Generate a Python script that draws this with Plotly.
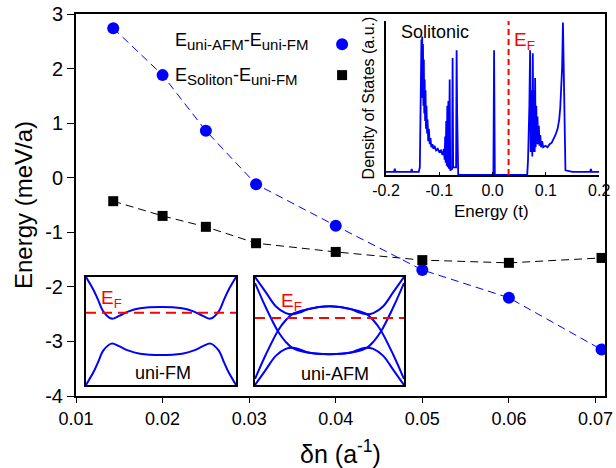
import plotly.graph_objects as go

# ---------------- main data ----------------
dn = [0.0143, 0.0200, 0.0250, 0.0308, 0.0400, 0.0500, 0.0600, 0.0707]
e_afm_fm = [2.74, 1.88, 0.86, -0.12, -0.88, -1.69, -2.20, -3.15]
e_sol_fm = [-0.43, -0.70, -0.90, -1.20, -1.36, -1.51, -1.56, -1.47]
y_ticks = [-4, -3, -2, -1, 0, 1, 2, 3]
y_tick_text = ["-4", "-3", "-2", "-1", "0", "1", "2", "3"]
x_ticks = [0.01, 0.02, 0.03, 0.04, 0.05, 0.06, 0.07]
x_tick_text = ["0.01", "0.02", "0.03", "0.04", "0.05", "0.06", "0.07"]

# ---------------- DOS inset ----------------
dos_e = [-0.2000, -0.1850, -0.1835, -0.1820, -0.1530, -0.1518, -0.1505, -0.1385,
         -0.1365, -0.1345, -0.1335, -0.1328, -0.1321, -0.1314, -0.1306, -0.1298,
         -0.1290, -0.1282, -0.1274, -0.1266, -0.1258, -0.1250, -0.1240, -0.1230,
         -0.1220, -0.1208, -0.1195, -0.1180, -0.1165, -0.1150, -0.1130, -0.1110,
         -0.1090, -0.1060, -0.1030, -0.1000, -0.0970, -0.0940, -0.0915, -0.0900,
         -0.0890, -0.0880, -0.0870, -0.0860, -0.0850, -0.0840, -0.0830, -0.0820,
         -0.0805, -0.0795, -0.0760, -0.0750, -0.0740, -0.0685, -0.0675, -0.0665,
         -0.0645, -0.0020, 0.0015, 0.0028, 0.0042, 0.0650, 0.0665, 0.0690,
         0.0704, 0.0715, 0.0730, 0.0745, 0.0755, 0.0765, 0.0780, 0.0790,
         0.0798, 0.0808, 0.0820, 0.0830, 0.0842, 0.0855, 0.0868, 0.0880,
         0.0895, 0.0910, 0.0930, 0.0950, 0.0990, 0.1030, 0.1070, 0.1110,
         0.1140, 0.1180, 0.1220, 0.1250, 0.1270, 0.1290, 0.1305, 0.1320,
         0.1335, 0.1350, 0.1367, 0.1500, 0.1830, 0.1844, 0.1858, 0.2000]
dos_v = [0.02, 0.02, 0.04, 0.02, 0.02, 0.04, 0.02, 0.02,
         0.05, 0.75, 0.88, 0.55, 0.90, 0.50, 0.85, 0.45,
         0.75, 0.40, 0.62, 0.35, 0.55, 0.30, 0.45, 0.27,
         0.36, 0.22, 0.30, 0.20, 0.24, 0.18, 0.20, 0.17,
         0.19, 0.16, 0.17, 0.15, 0.16, 0.13, 0.17, 0.10,
         0.25, 0.08, 0.35, 0.06, 0.45, 0.05, 0.48, 0.04,
         0.62, 0.03, 0.04, 0.76, 0.05, 0.05, 0.81, 0.40,
         0.00, 0.00, 0.00, 0.81, 0.00, 0.00, 0.10, 0.45,
         0.81, 0.15, 0.55, 0.12, 0.79, 0.15, 0.55, 0.15,
         0.63, 0.18, 0.45, 0.20, 0.38, 0.20, 0.32, 0.19,
         0.26, 0.18, 0.22, 0.18, 0.19, 0.18, 0.20, 0.21,
         0.23, 0.26, 0.30, 0.36, 0.44, 0.55, 0.70, 0.99,
         0.60, 0.15, 0.03, 0.02, 0.02, 0.04, 0.02, 0.02]
dos_ef = 0.030
dos_ticks = [-0.2, -0.1, 0.0, 0.1, 0.2]
dos_tick_text = ["-0.2", "-0.1", "0.0", "0.1", "0.2"]

# ---------------- band-structure insets ----------------
fm_k = [0.0, 0.05, 0.08, 0.116, 0.17, 0.22, 0.28, 0.36, 0.5, 0.64, 0.72, 0.78, 0.83, 0.884, 0.92, 0.95, 1.0]
fm_upper = [1.0, 0.88, 0.79, 0.68, 0.615, 0.64, 0.68, 0.71, 0.722, 0.71, 0.68, 0.64, 0.615, 0.68, 0.79, 0.88, 1.0]
fm_lower = [0.0, 0.12, 0.21, 0.32, 0.383, 0.36, 0.32, 0.29, 0.277, 0.29, 0.32, 0.36, 0.383, 0.32, 0.21, 0.12, 0.0]
fm_ef = 0.67

afm_k = [0.0, 0.072, 0.139, 0.206, 0.25, 0.30, 0.36, 0.5, 0.64, 0.70, 0.75, 0.794, 0.861, 0.928, 1.0]
afm_a = [1.0, 0.86, 0.73, 0.666, 0.655, 0.67, 0.705, 0.73, 0.705, 0.67, 0.655, 0.666, 0.73, 0.86, 1.0]
afm_b = [0.0, 0.14, 0.27, 0.334, 0.345, 0.33, 0.30, 0.285, 0.30, 0.33, 0.345, 0.334, 0.27, 0.14, 0.0]
afm_kx = [0.0, 0.072, 0.157, 0.206, 0.25, 0.318, 0.5, 0.682, 0.75, 0.794, 0.843, 0.928, 1.0]
afm_c = [0.944, 0.72, 0.49, 0.40, 0.344, 0.31, 0.285, 0.31, 0.344, 0.40, 0.49, 0.72, 0.944]
afm_d = [0.056, 0.28, 0.51, 0.60, 0.656, 0.69, 0.73, 0.69, 0.656, 0.60, 0.51, 0.28, 0.056]
afm_ef = 0.62

FONT = "Liberation Sans, Arial, sans-serif"
BLUE = "#0000ff"

fig = go.Figure()

# main series
fig.add_trace(go.Scatter(x=dn, y=e_afm_fm, mode="lines+markers",
                         line=dict(color=BLUE, width=1, dash="8px,5px"),
                         marker=dict(symbol="circle", size=12, color=BLUE),
                         showlegend=False, xaxis="x", yaxis="y"))
fig.add_trace(go.Scatter(x=dn, y=e_sol_fm, mode="lines+markers",
                         line=dict(color="black", width=1, dash="8px,5px"),
                         marker=dict(symbol="square", size=10, color="black"),
                         showlegend=False, xaxis="x", yaxis="y"))

# DOS inset
fig.add_trace(go.Scatter(x=dos_e, y=dos_v, mode="lines",
                         line=dict(color=BLUE, width=1.8),
                         showlegend=False, xaxis="x2", yaxis="y2"))
fig.add_trace(go.Scatter(x=[dos_ef, dos_ef], y=[0, 1], mode="lines",
                         line=dict(color="red", width=2, dash="6px,4px"),
                         showlegend=False, xaxis="x2", yaxis="y2"))

# FM inset
for yy in (fm_upper, fm_lower):
    fig.add_trace(go.Scatter(x=fm_k, y=yy, mode="lines", line=dict(color=BLUE, width=2, shape="spline"),
                             showlegend=False, xaxis="x3", yaxis="y3", cliponaxis=False))
fig.add_trace(go.Scatter(x=[0, 1], y=[fm_ef, fm_ef], mode="lines",
                         line=dict(color="red", width=2, dash="10px,6px"),
                         showlegend=False, xaxis="x3", yaxis="y3"))

# AFM inset
for kk, yy in ((afm_k, afm_a), (afm_k, afm_b), (afm_kx, afm_c), (afm_kx, afm_d)):
    fig.add_trace(go.Scatter(x=kk, y=yy, mode="lines", line=dict(color=BLUE, width=2, shape="spline"),
                             showlegend=False, xaxis="x4", yaxis="y4", cliponaxis=False))
fig.add_trace(go.Scatter(x=[0, 1], y=[afm_ef, afm_ef], mode="lines",
                         line=dict(color="red", width=2, dash="10px,6px"),
                         showlegend=False, xaxis="x4", yaxis="y4"))

box = dict(showline=True, linecolor="black", linewidth=2, mirror=True, ticks="",
           showticklabels=False, showgrid=False, zeroline=False, range=[0, 1], automargin=False)

fig.update_layout(
    width=616, height=468,
    margin=dict(l=76, r=11, t=14, b=72, autoexpand=False),
    paper_bgcolor="white", plot_bgcolor="white",
    font=dict(family=FONT, color="black"),
    xaxis=dict(domain=[0, 1], range=[0.01, 0.0711], tickvals=x_ticks, ticktext=x_tick_text,
               ticks="outside", ticklen=5, tickwidth=1, tickcolor="black",
               showline=True, linecolor="black", linewidth=2, mirror=True, automargin=False,
               showgrid=False, zeroline=False, tickfont=dict(size=18),
               title=dict(text="δn (a<sup>-1</sup>)", font=dict(size=25), standoff=19)),
    yaxis=dict(domain=[0, 1], range=[-4, 3], tickvals=y_ticks, ticktext=y_tick_text,
               ticks="outside", ticklen=7, tickwidth=1, tickcolor="black",
               showline=True, linecolor="black", linewidth=2, mirror=True, automargin=False,
               showgrid=False, zeroline=False, tickfont=dict(size=20),
               title=dict(text="Energy (meV/a)", font=dict(size=24), standoff=6)),
    xaxis2=dict(domain=[0.586, 0.989], anchor="y2", range=[-0.2, 0.2],
                tickvals=dos_ticks, ticktext=dos_tick_text,
                ticks="inside", ticklen=3, tickcolor="black", tickwidth=1, automargin=False,
                showline=True, linecolor="black", linewidth=1.5,
                showgrid=False, zeroline=False, tickfont=dict(size=16)),
    yaxis2=dict(domain=[0.5785, 0.9817], anchor="x2", range=[0, 1.0], automargin=False,
                showline=True, linecolor="black", linewidth=1.5, ticks="", showticklabels=False,
                showgrid=False, zeroline=False,
                title=dict(text="Density of States (a.u.)", font=dict(size=16), standoff=6)),
    xaxis3=dict(domain=[0.0189, 0.3025], anchor="y3", **box),
    yaxis3=dict(domain=[0.0288, 0.3115], anchor="x3", **box),
    xaxis4=dict(domain=[0.3384, 0.620], anchor="y4", **box),
    yaxis4=dict(domain=[0.0288, 0.3115], anchor="x4", **box),
)

SUB = '<sub><span style="font-size:15px">%s</span></sub>'
ann = [
    dict(text="E" + SUB % "uni-AFM" + "-E" + SUB % "uni-FM", x=0.1834, y=0.927, xref="paper", yref="paper",
         xanchor="left", yanchor="middle", showarrow=False, font=dict(size=18)),
    dict(text="E" + SUB % "Soliton" + "-E" + SUB % "uni-FM", x=0.1834, y=0.836, xref="paper", yref="paper",
         xanchor="left", yanchor="middle", showarrow=False, font=dict(size=18)),
    dict(text="Energy (t)", x=0.786, y=0.484, xref="paper", yref="paper",
         xanchor="center", yanchor="middle", showarrow=False, font=dict(size=17)),
    dict(text="Solitonic", x=-0.176, y=0.93, xref="x2", yref="y2", xanchor="left", yanchor="middle",
         showarrow=False, font=dict(size=18)),
    dict(text="E<sub>F</sub>", x=0.036, y=0.87, xref="x2", yref="y2", xanchor="left", yanchor="middle",
         showarrow=False, font=dict(size=19, color="red")),
    dict(text="E<sub>F</sub>", x=0.09, y=0.80, xref="x3", yref="y3", xanchor="left", yanchor="middle",
         showarrow=False, font=dict(size=19, color="red")),
    dict(text="uni-FM", x=0.51, y=0.11, xref="x3", yref="y3", xanchor="center", yanchor="middle",
         showarrow=False, font=dict(size=18)),
    dict(text="E<sub>F</sub>", x=0.16, y=0.77, xref="x4", yref="y4", xanchor="left", yanchor="middle",
         showarrow=False, font=dict(size=19, color="red")),
    dict(text="uni-AFM", x=0.54, y=0.10, xref="x4", yref="y4", xanchor="center", yanchor="middle",
         showarrow=False, font=dict(size=18)),
]
fig.update_layout(annotations=ann)

# legend symbols (drawn to the right of the legend text, as in the reference)
fig.update_layout(shapes=[
    dict(type="circle", xref="paper", yref="paper", xsizemode="pixel", ysizemode="pixel",
         xanchor=0.503, yanchor=0.921, x0=-6, x1=6, y0=-6, y1=6,
         fillcolor=BLUE, line=dict(width=0)),
    dict(type="rect", xref="paper", yref="paper", xsizemode="pixel", ysizemode="pixel",
         xanchor=0.503, yanchor=0.840, x0=-5, x1=5, y0=-5, y1=5,
         fillcolor="black", line=dict(width=0)),
])

fig.write_html("out.html")
